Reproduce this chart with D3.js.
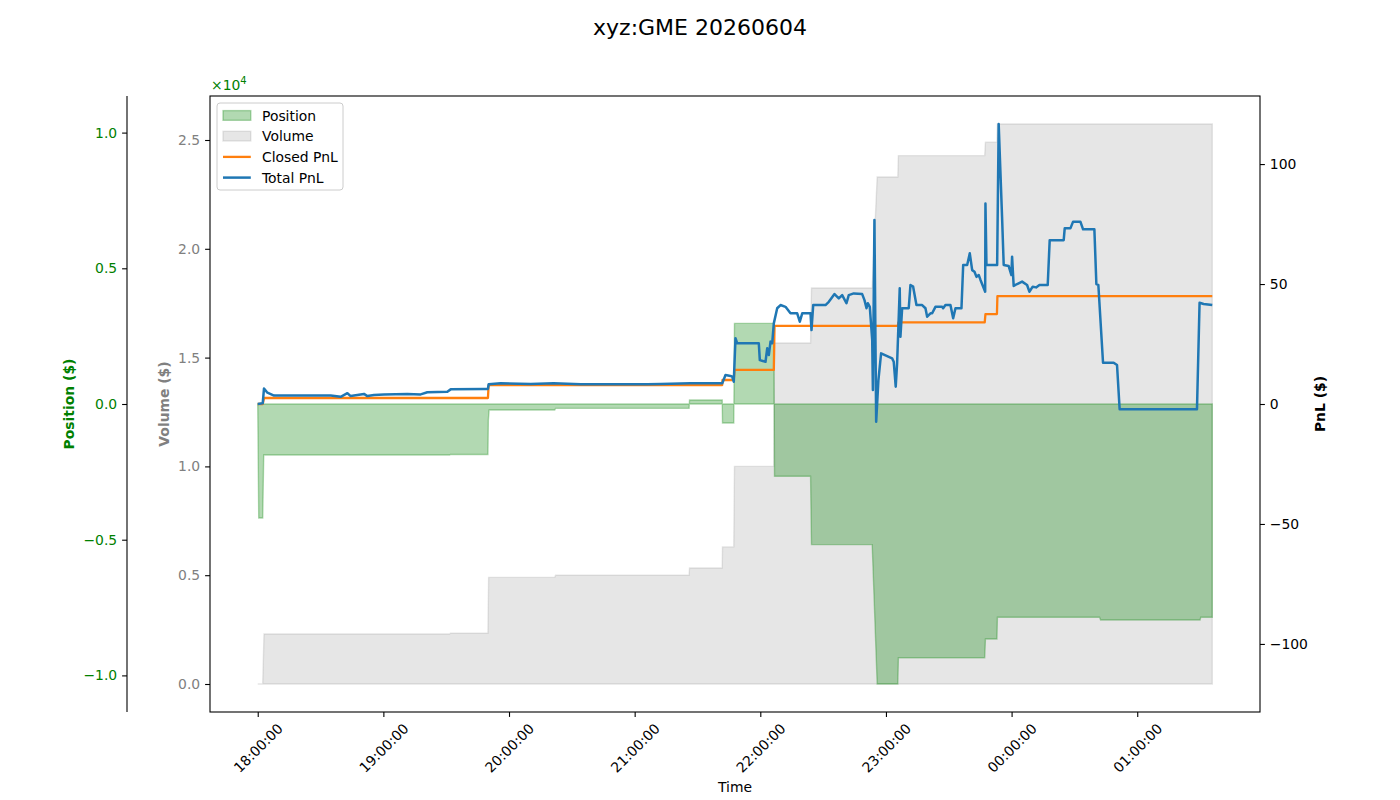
<!DOCTYPE html>
<html><head><meta charset="utf-8">
<script src="https://cdn.jsdelivr.net/npm/d3@7"></script>
<style>body{margin:0;background:#fff} text{font-family:"DejaVu Sans",sans-serif}</style>
</head><body><svg id="c" width="1400" height="800"></svg>
<script>
const chartTitle = "xyz:GME 20260604";
const sessionDate = "2026-06-04";

// Position ($)
const posTimes  = ["18:00:00","18:00:29","18:02:23","18:02:52","19:31:40","19:32:00","19:49:56","19:50:08","19:50:30","20:21:50","20:22:14","21:26:00","21:26:12","21:41:49","21:41:57","21:47:20","21:47:40","22:06:27","22:06:47","22:24:00","22:24:27","22:53:26","22:55:49","23:05:40","23:05:57","23:47:10","23:47:31","23:53:00","23:53:14","00:42:00","00:42:30","01:30:00","01:30:20","01:35:50"];
const posValues = [0,-4200,-4200,-1880,-1880,-1860,-1860,-600,-220,-220,-160,-160,150,150,-700,-700,2970,2970,-2660,-2660,-5180,-5180,-10317,-10317,-9350,-9350,-8660,-8660,-7860,-7860,-7960,-7960,-7860,-7860];

// Volume ($) cumulative
const volTimes  = ["18:00:00","18:02:23","18:03:00","19:31:40","19:32:00","19:49:56","19:50:16","20:21:50","20:22:14","21:26:00","21:26:12","21:41:49","21:41:57","21:47:20","21:47:40","22:06:27","22:06:47","22:24:00","22:24:27","22:53:26","22:55:49","23:05:40","23:05:57","23:47:10","23:47:31","23:53:00","23:53:14","01:35:50"];
const volValues = [0,0,2300,2300,2330,2330,4900,4900,5000,5000,5330,5330,6300,6300,10000,10000,15670,15670,18200,18200,23300,23300,24280,24280,24900,24900,25735,25735];

// Closed PnL ($)
const closedTimes  = ["18:00:00","18:02:23","18:03:00","19:49:56","19:50:16","21:41:49","21:41:57","21:47:20","21:47:40","22:06:27","22:06:47","23:05:40","23:05:57","23:47:10","23:47:31","23:53:00","23:53:14","01:35:50"];
const closedValues = [0,0,2.5,2.5,7.9,7.9,10.0,10.0,14.2,14.2,32.6,32.6,34.0,34.0,37.5,37.5,45.0,45.0];

// Total PnL ($)
const totalTimes = ["18:00:00","18:02:23","18:03:00","18:04:38","18:07:47","18:34:51","18:39:37","18:42:49","18:44:23","18:47:35","18:50:44","18:52:22","18:55:31","19:00:17","19:11:27","19:17:48","19:21:00","19:30:33","19:32:08","19:48:02","19:49:56","19:50:16","19:56:00","20:10:19","20:21:18","20:34:11","21:06:01","21:12:22","21:26:41","21:41:49","21:43:23","21:45:46","21:46:34","21:47:20","21:48:09","21:48:58","21:59:17","21:59:46","22:02:29","22:03:18","22:04:04","22:04:53","22:05:41","22:06:27","22:08:04","22:09:39","22:12:02","22:14:25","22:17:37","22:18:52","22:20:01","22:23:59","22:24:27","22:25:16","22:31:08","22:32:43","22:35:26","22:37:29","22:39:06","22:41:09","22:42:15","22:44:38","22:48:39","22:49:45","22:50:43","22:51:20","22:52:17","22:53:26","22:53:46","22:54:30","22:55:20","22:56:24","22:57:41","23:02:57","23:03:43","23:04:40","23:05:20","23:06:35","23:06:55","23:07:44","23:10:53","23:11:42","23:12:59","23:14:34","23:17:17","23:18:52","23:19:41","23:21:16","23:22:04","23:23:38","23:26:50","23:27:19","23:28:25","23:30:48","23:32:06","23:33:12","23:36:04","23:36:53","23:38:47","23:40:02","23:41:11","23:42:17","23:43:14","23:44:20","23:45:09","23:46:26","23:47:23","23:47:31","23:48:00","23:53:06","23:53:50","23:55:27","23:56:14","23:58:37","23:59:54","00:00:14","00:01:00","00:02:38","00:05:01","00:07:24","00:08:30","00:10:05","00:11:42","00:13:17","00:17:15","00:18:12","00:24:53","00:25:22","00:28:05","00:29:22","00:32:51","00:34:08","00:39:32","00:40:29","00:41:26","00:43:40","00:48:44","00:50:21","00:51:36","01:28:32","01:29:46","01:31:43","01:35:50"];
const totalValues = [0,0.3,6.5,4.7,3.5,3.5,3.0,4.5,3.3,3.75,4.2,3.3,3.75,4.0,4.2,4.0,4.9,5.1,6.1,6.3,6.3,8.2,8.6,8.3,8.6,8.2,8.2,8.3,8.6,8.6,12.1,11.7,11.4,9.3,27.4,25.3,25.3,18.3,17.6,23.2,20.4,26.0,25.3,33.6,39.9,41.25,40.5,37.8,37.8,34.3,37.8,37.8,30.8,41.25,41.25,42.6,45.8,44.0,45.4,42.0,45.4,46.1,45.8,43.3,39.9,42.0,40.5,26.7,5.8,76.7,-7.4,10.0,21.1,19.0,17.6,7.2,17.0,48.2,28.0,39.9,39.9,49.6,48.9,41.25,41.25,39.9,36.4,37.8,37.8,40.5,40.5,39.9,41.25,41.25,35.7,39.9,39.9,57.9,57.9,62.8,55.8,55.1,53.0,53.75,51.7,48.9,46.8,83.6,57.9,57.9,116.7,78.0,57.9,57.5,53.75,61.4,49.2,50.0,51.0,49.6,46.8,48.9,48.6,49.6,49.6,68.3,68.3,73.2,73.2,76.0,76.0,72.8,72.8,50.0,49.6,17.2,17.2,16.25,-2.2,-2.2,42.2,41.7,41.25];

const posTicks = [-10000,-5000,0,5000,10000];
const volTicks = [0,5000,10000,15000,20000,25000];
const pnlTicks = [-100,-50,0,50,100];
const legendLabels = ["Position","Volume","Closed PnL","Total PnL"];

// ---------- helpers ----------
function parseT(s){
  const h = +s.slice(0,2);
  const base = new Date(sessionDate+"T00:00:00Z");
  const d = new Date(base.getTime() + (h<12 ? 86400000 : 0));
  const [hh,mm,ss] = s.split(":").map(Number);
  d.setUTCHours(hh,mm,ss);
  return d;
}
const zip = (ts,vs)=>ts.map((t,i)=>({t:parseT(t),v:vs[i]}));
const posData = zip(posTimes,posValues);
const volData = zip(volTimes,volValues);
const closedData = zip(closedTimes,closedValues);
const totalData = zip(totalTimes,totalValues);

const L=210,R=1260,T=96,B=712;
const svg = d3.select("#c");
const fs = 13.9;
const minus = s=>s.replace(/-/g,"\u2212");

// x scale with 5% margins
const allT = [...posData,...volData,...totalData].map(d=>d.t);
const [t0,t1] = d3.extent(allT);
const span = t1-t0;
const x = d3.scaleUtc().domain([new Date(+t0-0.05*span), new Date(+t1+0.05*span)]).range([L,R]);

const posMax = d3.max(posValues,v=>Math.abs(v))*1.1;
const yPos = d3.scaleLinear().domain([-posMax,posMax]).range([B,T]);
const volMax = d3.max(volValues);
const yVol = d3.scaleLinear().domain([-0.05*volMax,1.05*volMax]).range([B,T]);
const pnlMax = d3.max([...totalValues,...closedValues],v=>Math.abs(v))*1.1;
const yPnl = d3.scaleLinear().domain([-pnlMax,pnlMax]).range([B,T]);

// title
svg.append("text").attr("x",700).attr("y",27).attr("text-anchor","middle").attr("dominant-baseline","central")
  .attr("font-size",22).text(chartTitle);

// fills
svg.append("path").datum(volData)
  .attr("d",d3.area().x(d=>x(d.t)).y0(yVol(0)).y1(d=>yVol(d.v)))
  .attr("fill","gray").attr("fill-opacity",0.2).attr("stroke","gray").attr("stroke-opacity",0.2).attr("stroke-width",1.4);
svg.append("path").datum(posData)
  .attr("d",d3.area().x(d=>x(d.t)).y0(yPos(0)).y1(d=>yPos(d.v)))
  .attr("fill","green").attr("fill-opacity",0.3).attr("stroke","green").attr("stroke-opacity",0.3).attr("stroke-width",1.4);

// lines
svg.append("path").datum(closedData)
  .attr("d",d3.line().x(d=>x(d.t)).y(d=>yPnl(d.v)))
  .attr("fill","none").attr("stroke","#ff7f0e").attr("stroke-width",2.3).attr("stroke-linejoin","round");
svg.append("path").datum(totalData)
  .attr("d",d3.line().x(d=>x(d.t)).y(d=>yPnl(d.v)))
  .attr("fill","none").attr("stroke","#1f77b4").attr("stroke-width",2.5).attr("stroke-linejoin","round");

// axes
function styleAxis(g,color){
  g.select(".domain").remove();
  g.selectAll(".tick line").attr("stroke","#000").attr("stroke-width",1.1);
  g.selectAll(".tick text").attr("font-size",fs).attr("fill",color).attr("font-family","DejaVu Sans");
}
const tk=4.9;
const gVol = svg.append("g").attr("transform",`translate(${L},0)`)
  .call(d3.axisLeft(yVol).tickValues(volTicks).tickSizeInner(tk).tickSizeOuter(0).tickPadding(4.9).tickFormat(v=>(v/1e4).toFixed(1)));
styleAxis(gVol,"gray");
const gPos = svg.append("g").attr("transform",`translate(127,0)`)
  .call(d3.axisLeft(yPos).tickValues(posTicks).tickSizeInner(tk).tickSizeOuter(0).tickPadding(4.9).tickFormat(v=>minus((v/1e4).toFixed(1))));
styleAxis(gPos,"green");
const gPnl = svg.append("g").attr("transform",`translate(${R},0)`)
  .call(d3.axisRight(yPnl).tickValues(pnlTicks).tickSizeInner(tk).tickSizeOuter(0).tickPadding(4.9).tickFormat(v=>minus(String(v))));
styleAxis(gPnl,"#000");

const hours = d3.utcHour.every(1).range(x.domain()[0], x.domain()[1]);
const gX = svg.append("g").attr("transform",`translate(0,${B})`)
  .call(d3.axisBottom(x).tickValues(hours).tickSizeInner(tk).tickSizeOuter(0).tickFormat(d3.utcFormat("%H:%M:%S")));
styleAxis(gX,"#000");
gX.selectAll(".tick text").attr("y",null).attr("dy",null)
  .attr("text-anchor","middle").attr("dominant-baseline","central")
  .attr("transform","translate(0,36) rotate(-45)");

// spines
svg.append("rect").attr("x",L).attr("y",T).attr("width",R-L).attr("height",B-T)
  .attr("fill","none").attr("stroke","#000").attr("stroke-width",1.1);
svg.append("line").attr("x1",127).attr("x2",127).attr("y1",T).attr("y2",B).attr("stroke","#000").attr("stroke-width",1.1);

// axis labels
const mid=(T+B)/2;
svg.append("text").attr("transform",`translate(69,${mid}) rotate(-90)`).attr("text-anchor","middle").attr("dominant-baseline","central")
  .attr("font-size",fs).attr("font-weight","bold").attr("fill","green").text("Position ($)");
svg.append("text").attr("transform",`translate(164,${mid}) rotate(-90)`).attr("text-anchor","middle").attr("dominant-baseline","central")
  .attr("font-size",fs).attr("font-weight","bold").attr("fill","gray").text("Volume ($)");
svg.append("text").attr("transform",`translate(1320,${mid}) rotate(-90)`).attr("text-anchor","middle").attr("dominant-baseline","central")
  .attr("font-size",fs).attr("font-weight","bold").attr("fill","#000").text("PnL ($)");
svg.append("text").attr("x",(L+R)/2).attr("y",787).attr("text-anchor","middle").attr("dominant-baseline","central")
  .attr("font-size",fs).text("Time");

// offset text
const off = svg.append("text").attr("x",211).attr("y",90).attr("font-size",fs).attr("fill","green");
off.append("tspan").text("\u00d710");
off.append("tspan").attr("dy",-6).attr("font-size",10).text("4");

// legend
const lg = svg.append("g");
lg.append("rect").attr("x",217).attr("y",103).attr("width",126).attr("height",87).attr("rx",3)
  .attr("fill","#fff").attr("fill-opacity",0.8).attr("stroke","#ccc").attr("stroke-width",1);
legendLabels.forEach((lab,i)=>{
  const cy = 115.5 + i*20.7;
  if(i===0) lg.append("rect").attr("x",223).attr("y",cy-4.9).attr("width",27.8).attr("height",9.7)
      .attr("fill","green").attr("fill-opacity",0.3).attr("stroke","green").attr("stroke-opacity",0.3).attr("stroke-width",1.4);
  if(i===1) lg.append("rect").attr("x",223).attr("y",cy-4.9).attr("width",27.8).attr("height",9.7)
      .attr("fill","gray").attr("fill-opacity",0.2).attr("stroke","gray").attr("stroke-opacity",0.2).attr("stroke-width",1.4);
  if(i===2) lg.append("line").attr("x1",223).attr("x2",250.8).attr("y1",cy).attr("y2",cy).attr("stroke","#ff7f0e").attr("stroke-width",2.3);
  if(i===3) lg.append("line").attr("x1",223).attr("x2",250.8).attr("y1",cy).attr("y2",cy).attr("stroke","#1f77b4").attr("stroke-width",2.5);
  lg.append("text").attr("x",262).attr("y",cy).attr("dominant-baseline","central").attr("font-size",fs).text(lab);
});
</script></body></html>
